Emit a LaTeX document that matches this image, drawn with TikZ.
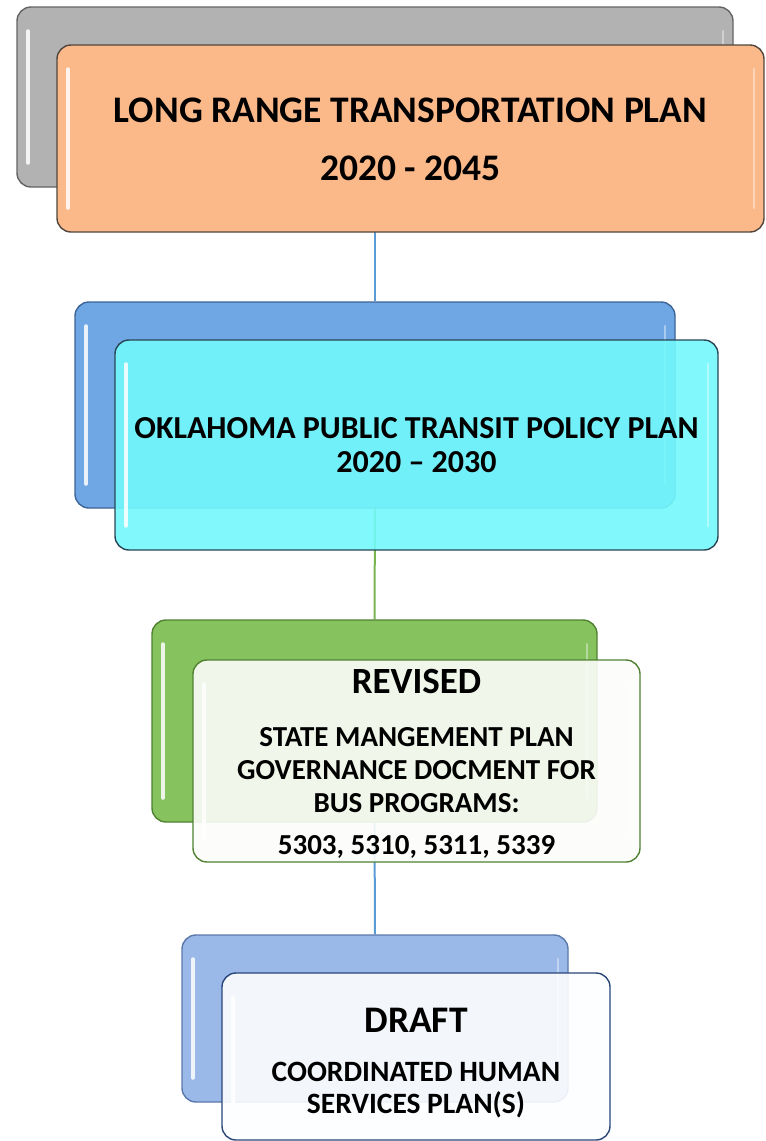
\documentclass[tikz,border=0pt]{standalone}
\usepackage{fontspec}
\setmainfont{Carlito}
\usepackage{xcolor}
\usetikzlibrary{positioning, backgrounds}
\definecolor{grayback}{RGB}{178,178,178}
\definecolor{grayline}{RGB}{100,100,100}
\definecolor{orangefront}{RGB}{251,185,138}
\definecolor{orangeline}{RGB}{80,70,62}
\definecolor{blueback}{RGB}{110,167,228}
\definecolor{blueline}{RGB}{60,100,150}
\definecolor{cyanfront}{RGB}{115,248,252}
\definecolor{cyanline}{RGB}{40,70,85}
\definecolor{greenback}{RGB}{134,194,94}
\definecolor{greenline}{RGB}{80,130,50}
\definecolor{greenfront}{RGB}{252,253,250}
\definecolor{lblueback}{RGB}{154,184,232}
\definecolor{lblueline}{RGB}{90,120,170}
\definecolor{whitefront}{RGB}{253,254,255}
\definecolor{navyline}{RGB}{40,70,120}
\definecolor{linkblue}{RGB}{91,155,213}
\definecolor{linkgreen}{RGB}{120,180,80}
\tikzset{
    box/.style={rectangle, rounded corners=14pt, line width=1.4pt, inner sep=0pt,
        path picture={\draw[white, line width=3.5pt, opacity=0.85, line cap=round]
            ([xshift=11pt,yshift=-24pt]path picture bounding box.north west) --
            ([xshift=11pt,yshift=24pt]path picture bounding box.south west);
            \draw[white, line width=2.5pt, opacity=0.4, line cap=round]
            ([xshift=-10pt,yshift=-24pt]path picture bounding box.north east) --
            ([xshift=-10pt,yshift=24pt]path picture bounding box.south east);}},
    backbox/.style={box, draw=#1line, fill=#1back},
    frontbox/.style={box, fill opacity=0.9},
    boxtext/.style={align=center, inner sep=0pt},
    link/.style={line width=2pt},
}
\begin{document}
\begin{tikzpicture}[x=1pt, y=-1pt]
    \useasboundingbox (0,0) rectangle (766,1141);

    % long range plan
    \node[backbox=gray, minimum width=716pt, minimum height=180pt] (lrtpback) at (375,97) {};
    \node[frontbox, draw=orangeline, fill=orangefront, fill opacity=1, minimum width=707pt, minimum height=187pt] (lrtp) at (410.5,138.5) {};
    \node[boxtext, font=\fontsize{37.5}{40}\selectfont\bfseries] (lrtptext) at ([yshift=-1pt]lrtp.center)
        {LONG RANGE TRANSPORTATION PLAN\\[18pt] 2020 - 2045};

    % transit policy plan
    \node[backbox=blue, minimum width=600pt, minimum height=206pt] (opttpback) at (375,405) {};
    \node[frontbox, draw=cyanline, fill=cyanfront, minimum width=603pt, minimum height=210pt] (opttp) at (416.5,445) {};
    \node[boxtext, font=\fontsize{32}{34}\selectfont\bfseries] (opttptext) at (opttp.center)
        {OKLAHOMA PUBLIC TRANSIT POLICY PLAN\\ 2020 -- 2030};

    % management plan
    \node[backbox=green, minimum width=445pt, minimum height=202pt] (smpback) at (374.5,721) {};
    \node[frontbox, draw=greenline, fill=greenfront, minimum width=447pt, minimum height=202pt] (smp) at (416.5,761) {};
    \node[boxtext, font=\fontsize{29}{33}\selectfont\bfseries] (smptext) at ([yshift=-2.5pt]smp.center)
        {{\fontsize{37}{33}\selectfont REVISED}\\[20pt]
         STATE MANGEMENT PLAN\\ GOVERNANCE DOCMENT FOR\\ BUS PROGRAMS:\\[9pt] 5303, 5310, 5311, 5339};

    % human services plan
    \node[backbox=lblue, minimum width=386pt, minimum height=167pt] (chspback) at (375,1018.5) {};
    \node[frontbox, draw=navyline, fill=whitefront, minimum width=388pt, minimum height=167pt] (chsp) at (416,1056.5) {};
    \node[boxtext, font=\fontsize{29.5}{32}\selectfont\bfseries] (chsptext) at ([yshift=-6.5pt]chsp.center)
        {{\fontsize{37.5}{32}\selectfont DRAFT}\\[17pt] COORDINATED HUMAN\\ SERVICES PLAN(S)};

    \begin{scope}[on background layer]
        \draw[link, linkblue] (lrtpback.south) -- (opttpback.north);
        \draw[link, linkgreen] (opttpback.south) -- (smpback.north);
        \draw[link, linkblue] (smpback.south) -- (chspback.north);
    \end{scope}
\end{tikzpicture}
\end{document}
